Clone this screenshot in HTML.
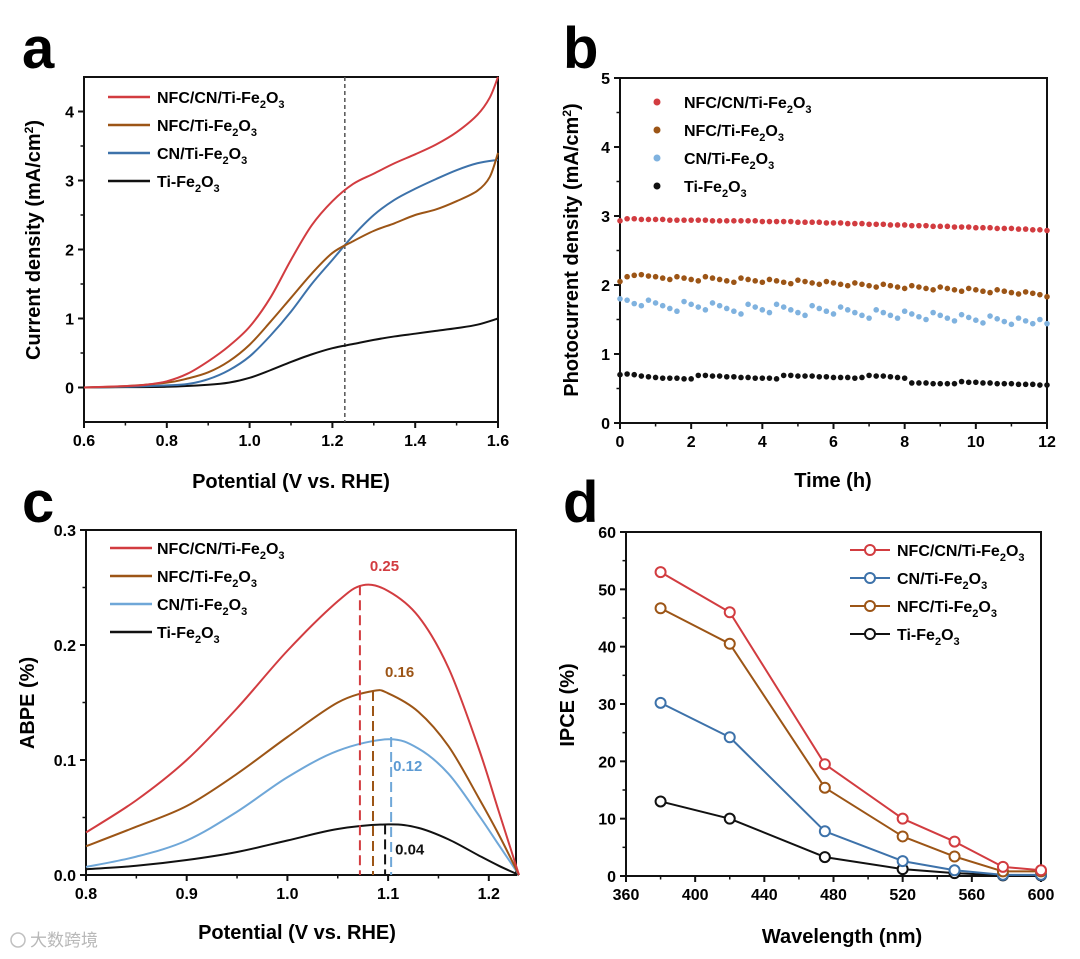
<!DOCTYPE html>
<html><head><meta charset="utf-8"><style>
html,body{margin:0;padding:0;background:#fff}
svg{display:block;font-family:"Liberation Sans",Arial,sans-serif}
</style></head><body>
<svg id="s" width="1080" height="959" viewBox="0 0 1080 959" xmlns="http://www.w3.org/2000/svg"></svg>
<script>
// ---- Panel a data ----
const aRedX=[0.6,0.7,0.75,0.8,0.85,0.9,0.95,1.0,1.05,1.1,1.15,1.2,1.25,1.3,1.35,1.4,1.45,1.5,1.55,1.58,1.6];
const aRedY=[0,0.02,0.04,0.09,0.2,0.38,0.6,0.88,1.3,1.85,2.35,2.7,2.95,3.1,3.25,3.38,3.52,3.7,3.95,4.2,4.5];
const aBrnX=[0.6,0.7,0.8,0.85,0.9,0.95,1.0,1.05,1.1,1.15,1.2,1.25,1.3,1.35,1.4,1.45,1.5,1.55,1.58,1.6];
const aBrnY=[0,0.02,0.07,0.13,0.22,0.38,0.62,0.95,1.3,1.65,1.95,2.12,2.27,2.38,2.5,2.58,2.7,2.85,3.05,3.4];
const aBluX=[0.6,0.7,0.8,0.85,0.9,0.95,1.0,1.05,1.1,1.15,1.2,1.25,1.3,1.35,1.4,1.45,1.5,1.55,1.6];
const aBluY=[0,0.01,0.03,0.05,0.12,0.25,0.45,0.75,1.1,1.5,1.85,2.2,2.5,2.72,2.88,3.02,3.15,3.25,3.3];
const aBlkX=[0.6,0.7,0.8,0.9,0.95,1.0,1.05,1.1,1.15,1.2,1.25,1.3,1.35,1.4,1.45,1.5,1.55,1.6];
const aBlkY=[0,0.005,0.01,0.04,0.07,0.14,0.25,0.37,0.48,0.57,0.63,0.69,0.74,0.78,0.82,0.86,0.91,1.0];
// ---- Panel b data (every 0.2 h, 0..12) ----
const bRed=[2.93,2.96,2.96,2.95,2.95,2.95,2.95,2.94,2.94,2.94,2.94,2.94,2.94,2.93,2.93,2.93,2.93,2.93,2.93,2.93,2.92,2.92,2.92,2.92,2.92,2.91,2.91,2.91,2.91,2.9,2.9,2.9,2.89,2.89,2.89,2.88,2.88,2.88,2.87,2.87,2.87,2.86,2.86,2.86,2.85,2.85,2.85,2.84,2.84,2.84,2.83,2.83,2.83,2.82,2.82,2.82,2.81,2.81,2.8,2.8,2.79];
const bBrn=[2.05,2.12,2.14,2.15,2.13,2.12,2.1,2.08,2.12,2.1,2.08,2.06,2.12,2.1,2.08,2.06,2.04,2.1,2.08,2.06,2.04,2.08,2.06,2.04,2.02,2.07,2.05,2.03,2.01,2.05,2.03,2.01,1.99,2.03,2.01,1.99,1.97,2.01,1.99,1.97,1.95,1.99,1.97,1.95,1.93,1.97,1.95,1.93,1.91,1.95,1.93,1.91,1.89,1.93,1.91,1.89,1.87,1.9,1.88,1.86,1.83];
const bBlu=[1.8,1.78,1.73,1.7,1.78,1.74,1.7,1.66,1.62,1.76,1.72,1.68,1.64,1.74,1.7,1.66,1.62,1.58,1.72,1.68,1.64,1.6,1.72,1.68,1.64,1.6,1.56,1.7,1.66,1.62,1.58,1.68,1.64,1.6,1.56,1.52,1.64,1.6,1.56,1.52,1.62,1.58,1.54,1.5,1.6,1.56,1.52,1.48,1.57,1.53,1.49,1.45,1.55,1.51,1.47,1.43,1.52,1.48,1.44,1.5,1.44];
const bBlk=[0.7,0.71,0.7,0.68,0.67,0.66,0.65,0.65,0.65,0.64,0.64,0.69,0.69,0.68,0.68,0.67,0.67,0.66,0.66,0.65,0.65,0.65,0.64,0.69,0.69,0.68,0.68,0.68,0.67,0.67,0.66,0.66,0.66,0.65,0.66,0.69,0.68,0.68,0.67,0.66,0.65,0.58,0.58,0.58,0.57,0.57,0.57,0.57,0.6,0.59,0.59,0.58,0.58,0.57,0.57,0.57,0.56,0.56,0.56,0.55,0.55];
// ---- Panel c data ----
const cRedX=[0.8,0.85,0.9,0.95,1.0,1.05,1.075,1.1,1.13,1.16,1.19,1.21,1.23];
const cRedY=[0.037,0.065,0.1,0.145,0.195,0.238,0.252,0.247,0.225,0.18,0.11,0.055,0];
const cBrnX=[0.8,0.85,0.9,0.95,1.0,1.05,1.085,1.1,1.13,1.16,1.19,1.21,1.23];
const cBrnY=[0.025,0.042,0.06,0.088,0.12,0.15,0.16,0.158,0.142,0.112,0.067,0.035,0];
const cBluX=[0.8,0.85,0.9,0.95,1.0,1.05,1.1,1.13,1.16,1.19,1.21,1.23];
const cBluY=[0.007,0.016,0.03,0.055,0.085,0.108,0.118,0.11,0.088,0.052,0.026,0];
const cBlkX=[0.8,0.85,0.9,0.95,1.0,1.05,1.1,1.13,1.16,1.19,1.21,1.23];
const cBlkY=[0.005,0.008,0.013,0.02,0.03,0.04,0.044,0.041,0.031,0.017,0.008,0];
const cPeakX=[1.072,1.085,1.103,1.097];
const cPeakY=[0.252,0.16,0.12,0.044];
const cPeakLabels=["0.25","0.16","0.12","0.04"];
// ---- Panel d data ----
const dWave=[380,420,475,520,550,578,600];
const dRed=[53,46,19.5,10,6,1.6,1.0];
const dBlu=[30.2,24.2,7.8,2.6,1.0,0.2,0.2];
const dBrn=[46.7,40.5,15.4,6.9,3.4,0.8,0.8];
const dBlk=[13,10,3.3,1.2,0.5,0.1,0.1];

const NS="http://www.w3.org/2000/svg";
const S=document.getElementById('s');
function el(tag,attrs,parent,txt){const e=document.createElementNS(NS,tag);for(const k in attrs)e.setAttribute(k,attrs[k]);if(txt!==undefined)e.textContent=txt;(parent||S).appendChild(e);return e;}
function scale(d0,d1,r0,r1){return v=>r0+(v-d0)/(d1-d0)*(r1-r0);}
const RED="#d23c40",BRN="#9c5516",BLU="#3d72aa",LBLU="#6fa7d8",BLK="#111";

function axes(g,b,xt,yt,xmin,ymin,fmtx,fmty){
  const X=scale(b.x0,b.x1,b.l,b.r),Y=scale(b.y0,b.y1,b.b,b.t);
  el('rect',{x:b.l,y:b.t,width:b.r-b.l,height:b.b-b.t,fill:'none',stroke:'#111','stroke-width':2},g);
  xt.forEach(v=>{const x=X(v);el('line',{x1:x,x2:x,y1:b.b,y2:b.b+6,stroke:'#111','stroke-width':2},g);
    const t=el('text',{x:x,y:b.b+24,'text-anchor':'middle','font-size':16,'font-weight':'bold'},g,fmtx(v));
    });
  xmin.forEach(v=>{const x=X(v);el('line',{x1:x,x2:x,y1:b.b,y2:b.b+3.5,stroke:'#111','stroke-width':1.5},g);});
  yt.forEach(v=>{const y=Y(v);el('line',{x1:b.l-6,x2:b.l,y1:y,y2:y,stroke:'#111','stroke-width':2},g);
    const t=el('text',{x:b.l-10,y:y+6,'text-anchor':'end','font-size':16,'font-weight':'bold'},g,fmty(v));
    });
  ymin.forEach(v=>{const y=Y(v);el('line',{x1:b.l-3.5,x2:b.l,y1:y,y2:y,stroke:'#111','stroke-width':1.5},g);});
  return [X,Y];
}
function smoothPath(pts){
  let d='M'+pts[0][0]+','+pts[0][1];
  for(let i=0;i<pts.length-1;i++){
    const p0=pts[i-1]||pts[i],p1=pts[i],p2=pts[i+1],p3=pts[i+2]||p2;
    const c1=[p1[0]+(p2[0]-p0[0])/6,p1[1]+(p2[1]-p0[1])/6];
    const c2=[p2[0]-(p3[0]-p1[0])/6,p2[1]-(p3[1]-p1[1])/6];
    d+=` C${c1[0]},${c1[1]} ${c2[0]},${c2[1]} ${p2[0]},${p2[1]}`;
  }
  return d;
}
function line(g,X,Y,xs,ys,color,w,name,smooth){
  let p;
  if(smooth){p=el('path',{d:smoothPath(xs.map((x,i)=>[X(x),Y(ys[i])])),fill:'none',stroke:color,'stroke-width':w||2,'stroke-linejoin':'round'},g);}
  else p=el('polyline',{points:xs.map((x,i)=>X(x)+','+Y(ys[i])).join(' '),fill:'none',stroke:color,'stroke-width':w||2,'stroke-linejoin':'round'},g);
  return p;
}
function ytitle(g,x,y,txt,name){const t=el('text',{x:0,y:0,transform:`translate(${x},${y}) rotate(-90)`,'text-anchor':'middle','font-size':20,'font-weight':'bold'},g);
  t.innerHTML=txt;}
function xtitle(g,x,y,txt,name){const t=el('text',{x:x,y:y,'text-anchor':'middle','font-size':20,'font-weight':'bold'},g);t.innerHTML=txt;
  }
function letter(x,y,c,name){const t=el('text',{x:x,y:y,'font-size':58,'font-weight':'bold'},S,c);}
const FE='Fe<tspan dy="5" font-size="11">2</tspan><tspan dy="-5">O</tspan><tspan dy="5" font-size="11">3</tspan>';
function legText(g,x,y,pre,name){const t=el('text',{x:x,y:y+6,'font-size':16,'font-weight':'bold'},g);t.innerHTML=pre+FE;
  }
function r1(v){return v.toFixed(1);}
function r0(v){return String(v);}

letter(22,68,'a','panel-label-a');letter(563,68,'b','panel-label-b');
letter(22,522,'c','panel-label-c');letter(563,522,'d','panel-label-d');

// ---- Panel a ----
{const g=el('g',{});
 const b={l:84,r:498,t:77,b:422,x0:0.6,x1:1.6,y0:-0.5,y1:4.5};
 const [X,Y]=axes(g,b,[0.6,0.8,1.0,1.2,1.4,1.6],[0,1,2,3,4],[0.7,0.9,1.1,1.3,1.5],[0.5,1.5,2.5,3.5],r1,r0);
 el('line',{x1:X(1.23),x2:X(1.23),y1:b.t,y2:b.b,stroke:'#555','stroke-width':1.5,'stroke-dasharray':'4,3'},g);
 line(g,X,Y,aBlkX,aBlkY,BLK,2,'line-ti-fe2o3',true);
 line(g,X,Y,aBluX,aBluY,BLU,2,'line-cn-ti-fe2o3',true);
 line(g,X,Y,aBrnX,aBrnY,BRN,2,'line-nfc-ti-fe2o3',true);
 line(g,X,Y,aRedX,aRedY,RED,2,'line-nfc-cn-ti-fe2o3',true);
 const L=[[RED,'NFC/CN/Ti-'],[BRN,'NFC/Ti-'],[BLU,'CN/Ti-'],[BLK,'Ti-']];
 L.forEach((d,i)=>{const y=97+i*28;el('line',{x1:108,x2:150,y1:y,y2:y,stroke:d[0],'stroke-width':2.5},g);legText(g,157,y,d[1],'legend-entry');});
 ytitle(g,40,240,'Current density (mA/cm<tspan dy="-7" font-size="12">2</tspan><tspan dy="7">)</tspan>','y-axis-title');
 xtitle(g,291,488,'Potential (V vs. RHE)','x-axis-title');}

// ---- Panel b ----
{const g=el('g',{});
 const b={l:620,r:1047,t:78,b:423,x0:0,x1:12,y0:0,y1:5};
 const [X,Y]=axes(g,b,[0,2,4,6,8,10,12],[0,1,2,3,4,5],[1,3,5,7,9,11],[0.5,1.5,2.5,3.5,4.5],r0,r0);
 const series=[[bRed,RED,'dots-nfc-cn'],[bBrn,BRN,'dots-nfc'],[bBlu,'#7fb2df','dots-cn'],[bBlk,BLK,'dots-ti']];
 series.forEach(s=>{s[0].forEach((v,i)=>{const c=el('circle',{cx:X(i*0.2),cy:Y(v),r:2.8,fill:s[1]},g);
   });});
 const L=[[RED,'NFC/CN/Ti-'],[BRN,'NFC/Ti-'],['#7fb2df','CN/Ti-'],[BLK,'Ti-']];
 L.forEach((d,i)=>{const y=102+i*28;el('circle',{cx:657,cy:y,r:3.5,fill:d[0]},g);legText(g,684,y,d[1],'legend-entry');});
 ytitle(g,578,250,'Photocurrent density (mA/cm<tspan dy="-7" font-size="12">2</tspan><tspan dy="7">)</tspan>','y-axis-title');
 xtitle(g,833,487,'Time (h)','x-axis-title');}

// ---- Panel c ----
{const g=el('g',{});
 const b={l:86,r:516,t:530,b:875,x0:0.8,x1:1.227,y0:0,y1:0.3};
 const [X,Y]=axes(g,b,[0.8,0.9,1.0,1.1,1.2],[0,0.1,0.2,0.3],[0.85,0.95,1.05,1.15],[0.05,0.15,0.25],r1,r1);
 line(g,X,Y,cBlkX,cBlkY,BLK,2,'line-ti-fe2o3',true);
 line(g,X,Y,cBluX,cBluY,LBLU,2,'line-cn-ti-fe2o3',true);
 line(g,X,Y,cBrnX,cBrnY,BRN,2,'line-nfc-ti-fe2o3',true);
 line(g,X,Y,cRedX,cRedY,RED,2,'line-nfc-cn-ti-fe2o3',true);
 const pc=[RED,BRN,LBLU,BLK];
 const lo=[[10,-14],[12,-14],[2,34],[10,30]];
 cPeakX.forEach((px,i)=>{el('line',{x1:X(px),x2:X(px),y1:Y(cPeakY[i]),y2:b.b,stroke:pc[i],'stroke-width':2,'stroke-dasharray':'10,5'},g);
   const t=el('text',{x:X(px)+lo[i][0],y:Y(cPeakY[i])+lo[i][1],'font-size':15,'font-weight':'bold',fill:pc[i]==LBLU?'#5d9bd3':pc[i]},g,cPeakLabels[i]);
   });
 const L=[[RED,'NFC/CN/Ti-'],[BRN,'NFC/Ti-'],[LBLU,'CN/Ti-'],[BLK,'Ti-']];
 L.forEach((d,i)=>{const y=548+i*28;el('line',{x1:110,x2:152,y1:y,y2:y,stroke:d[0],'stroke-width':2.5},g);legText(g,157,y,d[1],'legend-entry');});
 ytitle(g,34,703,'ABPE (%)','y-axis-title');
 xtitle(g,297,939,'Potential (V vs. RHE)','x-axis-title');}

// ---- Panel d ----
{const g=el('g',{});
 const b={l:626,r:1041,t:532,b:876,x0:360,x1:600,y0:0,y1:60};
 const [X,Y]=axes(g,b,[360,400,440,480,520,560,600],[0,10,20,30,40,50,60],[380,420,460,500,540,580],[5,15,25,35,45,55],r0,r0);
 const series=[[dBlk,BLK,'series-ti-fe2o3'],[dBlu,BLU,'series-cn-ti-fe2o3'],[dBrn,BRN,'series-nfc-ti-fe2o3'],[dRed,RED,'series-nfc-cn-ti-fe2o3']];
 series.forEach(s=>{line(g,X,Y,dWave,s[0],s[1],2,s[2]);
   s[0].forEach((v,i)=>{const c=el('circle',{cx:X(dWave[i]),cy:Y(v),r:5,fill:'#fff',stroke:s[1],'stroke-width':2},g);
   });});
 const L=[[RED,'NFC/CN/Ti-'],[BLU,'CN/Ti-'],[BRN,'NFC/Ti-'],[BLK,'Ti-']];
 L.forEach((d,i)=>{const y=550+i*28;el('line',{x1:850,x2:890,y1:y,y2:y,stroke:d[0],'stroke-width':2},g);
   el('circle',{cx:870,cy:y,r:5,fill:'#fff',stroke:d[0],'stroke-width':2},g);legText(g,897,y,d[1],'legend-entry');});
 ytitle(g,574,705,'IPCE (%)','y-axis-title');
 xtitle(g,842,943,'Wavelength (nm)','x-axis-title');}

{const t=el('text',{x:30,y:946,'font-size':17,fill:'#b8b8b8','font-family':'"Liberation Sans","Noto Sans CJK SC",sans-serif'},S,'大数跨境');
 
 const c=el('circle',{cx:18,cy:940,r:7,fill:'none',stroke:'#c0c0c0','stroke-width':1.5},S);
 }
</script>
</body></html>
